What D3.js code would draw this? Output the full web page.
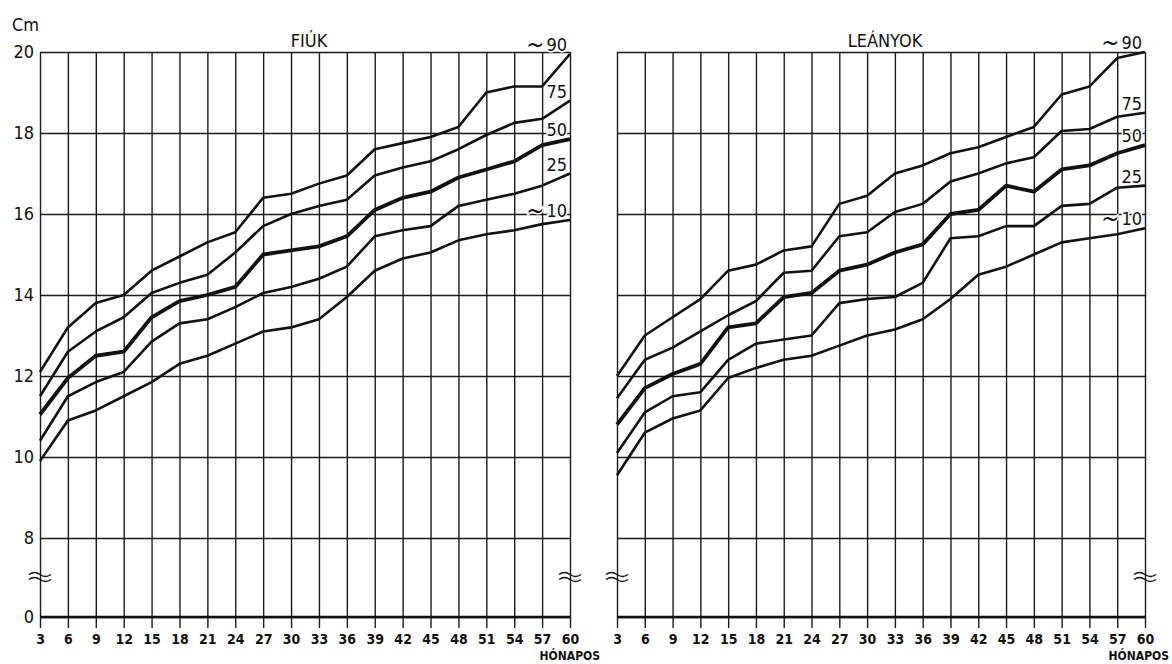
<!DOCTYPE html>
<html>
<head>
<meta charset="utf-8">
<script src="https://cdn.jsdelivr.net/npm/d3@7"></script>
<style>
  body { margin: 0; background: #fff; }
  text { font-family: "DejaVu Sans Condensed", "Liberation Sans Narrow", sans-serif; fill: #111; }
  .grid line { stroke: #1a1a1a; stroke-width: 1.4; }
  .grid .domain { display: none; }
  .tick text { font-size: 18px; }
  .month .tick text { font-size: 14px; font-weight: bold; }
</style>
</head>
<body>
<svg id="chart" width="1172" height="664"></svg>
<script>
const width = 1172;
const height = 664;

// months on the x axis (tick labels too)
const months = [3, 6, 9, 12, 15, 18, 21, 24, 27, 30, 33, 36, 39, 42, 45, 48, 51, 54, 57, 60];
const yTicks = [0, 8, 10, 12, 14, 16, 18, 20];
const percentiles = ["~90", "75", "50", "25", "~10"];
const panelTitles = ["FIÚK", "LEÁNYOK"];

// boys (FIÚK), cm
const boys90 = [12.1, 13.2, 13.8, 14.0, 14.6, 14.95, 15.3, 15.55, 16.4, 16.5, 16.75, 16.95, 17.6, 17.75, 17.9, 18.15, 19.0, 19.15, 19.15, 19.95];
const boys75 = [11.5, 12.6, 13.1, 13.45, 14.05, 14.3, 14.5, 15.05, 15.7, 16.0, 16.2, 16.35, 16.95, 17.15, 17.3, 17.6, 17.95, 18.25, 18.35, 18.8];
const boys50 = [11.05, 11.95, 12.5, 12.6, 13.45, 13.85, 14.0, 14.2, 15.0, 15.1, 15.2, 15.45, 16.1, 16.4, 16.55, 16.9, 17.1, 17.3, 17.7, 17.85];
const boys25 = [10.4, 11.5, 11.85, 12.1, 12.85, 13.3, 13.4, 13.7, 14.05, 14.2, 14.4, 14.7, 15.45, 15.6, 15.7, 16.2, 16.35, 16.5, 16.7, 17.0];
const boys10 = [9.9, 10.9, 11.15, 11.5, 11.85, 12.3, 12.5, 12.8, 13.1, 13.2, 13.4, 13.95, 14.6, 14.9, 15.05, 15.35, 15.5, 15.6, 15.75, 15.85];

// girls (LEÁNYOK), cm
const girls90 = [12.0, 13.0, 13.45, 13.9, 14.6, 14.75, 15.1, 15.2, 16.25, 16.45, 17.0, 17.2, 17.5, 17.65, 17.9, 18.15, 18.95, 19.15, 19.85, 20.0];
const girls75 = [11.45, 12.4, 12.7, 13.1, 13.5, 13.85, 14.55, 14.6, 15.45, 15.55, 16.05, 16.25, 16.8, 17.0, 17.25, 17.4, 18.05, 18.1, 18.4, 18.5];
const girls50 = [10.8, 11.7, 12.05, 12.3, 13.2, 13.3, 13.95, 14.05, 14.6, 14.75, 15.05, 15.25, 16.0, 16.1, 16.7, 16.55, 17.1, 17.2, 17.5, 17.7];
const girls25 = [10.1, 11.1, 11.5, 11.6, 12.4, 12.8, 12.9, 13.0, 13.8, 13.9, 13.95, 14.3, 15.4, 15.45, 15.7, 15.7, 16.2, 16.25, 16.65, 16.7];
const girls10 = [9.55, 10.6, 10.95, 11.15, 11.95, 12.2, 12.4, 12.5, 12.75, 13.0, 13.15, 13.4, 13.9, 14.5, 14.7, 15.0, 15.3, 15.4, 15.5, 15.65];

const svg = d3.select("body").select("svg#chart");

const plotTop = 52;
const tickBottom = 628;

/* SCALES */

// broken axis: 0 sits below 8 with a gap
let yScale = d3.scaleLinear()
  .domain([0, 8, 20])
  .range([617, 538, plotTop]);

drawPanel(40, 570, panelTitles[0], [boys90, boys75, boys50, boys25, boys10], true);
drawPanel(617, 1145, panelTitles[1], [girls90, girls75, girls50, girls25, girls10], false);

svg.append("text")
  .attr("x", 12)
  .attr("y", 31)
  .style("font-size", "18px")
  .text("Cm");

/*
 * one panel: grid, axes, curves, labels
 */
function drawPanel(left, right, title, series, showYLabels) {
  const xScale = d3.scaleLinear()
    .domain([3, 60])
    .range([left, right]);
  const plotWidth = right - left;

  const panel = svg.append("g");

  // horizontal grid with cm labels
  const yAxis = d3.axisLeft(yScale)
    .tickValues(yTicks)
    .tickSize(-plotWidth)
    .tickPadding(6)
    .tickFormat(showYLabels ? d3.format("d") : "");
  panel.append("g")
    .attr("class", "grid")
    .attr("transform", translate(left, 0))
    .call(yAxis);

  // vertical grid with month labels
  const xAxis = d3.axisBottom(xScale)
    .tickValues(months)
    .tickSize(-(tickBottom - plotTop))
    .tickPadding(6);
  panel.append("g")
    .attr("class", "grid month")
    .attr("transform", translate(0, tickBottom))
    .call(xAxis);

  // baseline at 0
  panel.append("line")
    .attr("x1", left)
    .attr("x2", right)
    .attr("y1", yScale(0))
    .attr("y2", yScale(0))
    .style("stroke", "#111")
    .style("stroke-width", 2.6);

  // axis break marks
  [left, right].forEach(function(x) {
    [-2.5, 2.5].forEach(function(off) {
      const y = 576 + off;
      panel.append("path")
        .attr("d", "M" + (x - 11) + "," + (y + 1) + " q5.5,-4 11,0 t11,0")
        .style("fill", "none")
        .style("stroke", "#111")
        .style("stroke-width", 1.5);
    });
  });

  // percentile curves
  const line = d3.line()
    .x((d, i) => xScale(months[i]))
    .y(d => yScale(d));

  panel.append("g").selectAll("path")
    .data(series)
    .enter()
    .append("path")
      .attr("d", line)
      .style("fill", "none")
      .style("stroke", "#111")
      .style("stroke-linejoin", "round")
      .style("stroke-width", (d, i) => i === 2 ? 3.8 : 2.6);

  // percentile labels, tilde drawn larger
  const labels = panel.append("g").selectAll("text")
    .data(series)
    .enter()
    .append("text")
      .attr("x", xScale(60) - 3)
      .attr("y", d => yScale(d[d.length - 1]) - 3)
      .attr("text-anchor", "end")
      .style("font-size", "18px")
      .style("stroke", "#fff")
      .style("stroke-width", 3)
      .style("paint-order", "stroke");

  labels.each(function(d, i) {
    const label = percentiles[i];
    const t = d3.select(this);
    if (label[0] === "~") {
      t.append("tspan").style("font-size", "24px").attr("dy", 2).text("~");
      t.append("tspan").attr("dx", 2).attr("dy", -2).text(label.slice(1));
    } else {
      t.text(label);
    }
  });

  // panel title
  panel.append("text")
    .attr("x", (left + right) / 2 + 4)
    .attr("y", 47)
    .attr("text-anchor", "middle")
    .style("font-size", "18px")
    .text(title);

  panel.append("text")
    .attr("x", Math.min(xScale(60) + 30, width - 3))
    .attr("y", 660)
    .attr("text-anchor", "end")
    .style("font-size", "12px")
    .style("font-weight", "bold")
    .text("HÓNAPOS");
}

/*
 * returns a translate string for the transform attribute
 */
function translate(x, y) {
  return 'translate(' + String(x) + ',' + String(y) + ')';
}
</script>
</body>
</html>
